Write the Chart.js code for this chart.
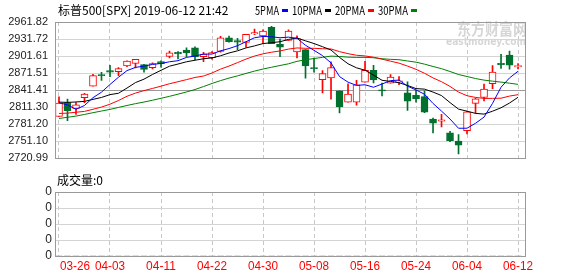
<!DOCTYPE html>
<html>
<head>
<meta charset="utf-8">
<script src="https://cdn.jsdelivr.net/npm/chart.js@4.4.1/dist/chart.umd.min.js"></script>
<style>
  body { margin: 0; background: #fff; }
  #wrap { position: relative; width: 578px; height: 276px; }
  #wrap canvas { position: absolute; left: 0; }
  #kChart { top: 0; }
  #volChart { top: 172px; }
</style>
</head>
<body>
<div id="wrap">
  <canvas id="kChart" width="578" height="172"></canvas>
  <canvas id="volChart" width="578" height="104"></canvas>
</div>
<script>
// daily candles, S&P 500, 2019-03-26 .. 2019-06-12
const dates = ['03-26','03-27','03-28','03-29','04-01','04-02','04-03','04-04','04-05','04-08',
  '04-09','04-10','04-11','04-12','04-15','04-16','04-17','04-18','04-22','04-23',
  '04-24','04-25','04-26','04-29','04-30','05-01','05-02','05-03','05-06','05-07',
  '05-08','05-09','05-10','05-13','05-14','05-15','05-16','05-17','05-20','05-21',
  '05-22','05-23','05-24','05-28','05-29','05-30','05-31','06-03','06-04','06-05',
  '06-06','06-07','06-10','06-11','06-12'];

const open = [2795.0, 2819.7, 2809.4, 2828.3, 2848.6, 2868.2, 2876.1, 2874.0, 2884.2, 2888.5,
  2886.6, 2881.4, 2891.9, 2900.9, 2908.3, 2912.3, 2916.0, 2900.5, 2898.8, 2910.0,
  2934.0, 2929.0, 2925.8, 2940.6, 2937.1, 2952.3, 2922.2, 2929.2, 2908.9, 2913.0,
  2879.6, 2859.8, 2863.1, 2840.2, 2820.1, 2820.4, 2855.8, 2876.3, 2841.9, 2854.0,
  2856.1, 2836.7, 2832.4, 2830.0, 2790.3, 2786.9, 2766.2, 2751.5, 2770.0, 2818.1,
  2828.5, 2852.9, 2889.0, 2903.3, 2882.7];
const high = [2829.9, 2825.6, 2819.7, 2836.0, 2869.4, 2872.9, 2885.3, 2881.3, 2893.2, 2896.0,
  2886.9, 2889.7, 2893.4, 2910.5, 2909.6, 2916.1, 2918.0, 2908.4, 2909.5, 2936.3,
  2936.8, 2933.1, 2939.9, 2949.5, 2948.2, 2954.1, 2931.7, 2947.9, 2937.3, 2913.0,
  2898.0, 2876.0, 2891.3, 2840.2, 2852.5, 2858.7, 2892.2, 2885.5, 2853.9, 2868.9,
  2865.5, 2856.3, 2841.4, 2840.5, 2792.0, 2799.0, 2769.0, 2763.1, 2804.5, 2827.3,
  2852.1, 2885.0, 2904.8, 2910.6, 2888.6];
const low = [2795.0, 2787.7, 2798.8, 2819.2, 2848.6, 2858.8, 2865.2, 2867.1, 2883.0, 2880.8,
  2873.3, 2879.1, 2882.0, 2898.4, 2896.5, 2900.7, 2895.5, 2891.9, 2896.4, 2908.5,
  2926.1, 2912.8, 2917.6, 2939.4, 2924.1, 2923.4, 2900.5, 2929.2, 2898.2, 2862.6,
  2873.3, 2836.4, 2825.4, 2801.4, 2820.1, 2815.1, 2855.8, 2854.2, 2831.3, 2854.0,
  2851.1, 2805.5, 2820.2, 2801.6, 2766.1, 2776.7, 2750.5, 2728.8, 2764.0, 2800.9,
  2822.5, 2844.0, 2880.0, 2878.5, 2879.0];
const close = [2818.5, 2805.4, 2815.4, 2834.4, 2867.2, 2867.2, 2873.4, 2879.4, 2892.7, 2895.8,
  2878.2, 2888.2, 2888.3, 2907.4, 2905.6, 2907.1, 2900.5, 2905.0, 2908.0, 2933.7,
  2927.3, 2926.2, 2939.9, 2943.0, 2945.8, 2923.7, 2917.5, 2945.6, 2932.5, 2884.1,
  2879.4, 2870.7, 2881.4, 2811.9, 2834.4, 2851.0, 2876.3, 2859.5, 2840.2, 2864.4,
  2856.3, 2822.2, 2826.1, 2802.4, 2783.0, 2788.9, 2752.1, 2744.5, 2803.3, 2826.2,
  2843.5, 2873.3, 2886.7, 2885.7, 2885.0];

const ma5 = [2819.3, 2815.6, 2807.7, 2814.4, 2828.2, 2837.9, 2851.5, 2864.3, 2876.0, 2881.7,
  2883.9, 2886.9, 2888.6, 2891.6, 2893.5, 2899.3, 2901.8, 2905.1, 2905.2, 2910.9,
  2914.9, 2920.0, 2927.0, 2934.0, 2936.4, 2935.7, 2934.0, 2935.1, 2933.0, 2920.7,
  2911.8, 2902.5, 2889.6, 2865.5, 2855.6, 2849.9, 2851.0, 2846.6, 2852.3, 2858.3,
  2859.3, 2848.5, 2841.8, 2834.3, 2818.0, 2804.5, 2790.5, 2774.2, 2774.3, 2783.0,
  2793.9, 2818.1, 2846.6, 2863.1, 2874.8];
const ma10 = [2820.4, 2819.9, 2820.6, 2821.7, 2825.2, 2828.6, 2833.6, 2836.0, 2845.2, 2854.9,
  2860.9, 2869.2, 2876.5, 2883.8, 2887.6, 2891.6, 2894.3, 2896.9, 2898.4, 2902.2,
  2907.1, 2910.9, 2916.1, 2919.6, 2923.7, 2925.3, 2927.0, 2931.1, 2933.5, 2928.6,
  2923.8, 2918.2, 2912.4, 2899.3, 2888.1, 2880.9, 2876.7, 2868.1, 2858.9, 2856.9,
  2854.6, 2849.8, 2844.2, 2843.3, 2838.1, 2831.9, 2819.5, 2808.0, 2804.3, 2800.5,
  2799.2, 2804.3, 2810.4, 2818.7, 2828.9];
const ma20 = [2800.3, 2800.9, 2802.5, 2804.0, 2807.7, 2811.6, 2816.7, 2823.2, 2830.7, 2836.3,
  2840.7, 2844.5, 2848.5, 2852.8, 2856.4, 2860.1, 2863.9, 2866.4, 2871.8, 2878.6,
  2884.0, 2890.1, 2896.3, 2901.7, 2905.6, 2908.5, 2910.7, 2914.0, 2916.0, 2915.4,
  2915.4, 2914.6, 2914.2, 2909.5, 2905.9, 2903.1, 2901.9, 2899.6, 2896.2, 2892.7,
  2889.2, 2884.0, 2878.3, 2871.3, 2863.1, 2856.4, 2848.1, 2838.1, 2831.6, 2828.7,
  2826.9, 2827.0, 2827.3, 2831.0, 2833.5];
const ma30 = [2791.5, 2793.6, 2795.7, 2798.6, 2801.7, 2804.6, 2807.5, 2811.0, 2814.4, 2817.7,
  2820.5, 2823.7, 2827.1, 2830.6, 2834.4, 2838.3, 2842.6, 2847.8, 2853.3, 2858.3,
  2862.8, 2866.7, 2871.0, 2875.1, 2878.8, 2881.9, 2885.0, 2888.0, 2892.4, 2895.2,
  2897.3, 2899.4, 2901.6, 2900.9, 2899.8, 2899.3, 2899.4, 2898.7, 2896.9, 2895.9,
  2895.2, 2893.0, 2890.9, 2887.4, 2883.3, 2879.4, 2874.4, 2869.1, 2865.6, 2862.0,
  2859.2, 2857.4, 2855.7, 2853.8, 2851.7];

const volume = new Array(dates.length).fill(0);

const yTicks = [2720.99, 2751.09, 2781.20, 2811.30, 2841.41, 2871.51, 2901.61, 2931.72, 2961.82];
const yLabels = ['2720.99', '2751.10', '2781.20', '2811.30', '2841.41', '2871.51', '2901.61', '2931.72', '2961.82'];
const volTicks = [0, 1, 2, 3, 4];
const volLabels = ['0', '0', '0', '0', '0'];
const xTickIdx = [0, 6, 12, 18, 24, 30, 36, 42, 48, 54];
const xLabels = xTickIdx.map(i => dates[i]);

const titleText = '标普500[SPX] 2019-06-12 21:42';
const maNames = ['5PMA', '10PMA', '20PMA', '30PMA'];
const maColors = ['#0000ff', '#000000', '#ff0000', '#008000'];
const upColor = '#ff0000';
const downColor = '#00702f';

const isUp = i => close[i] >= open[i];

const xRange = { min: -0.47, max: 54.82 };

function xAxis(height) {
    return {
        type: 'linear',
        min: xRange.min,
        max: xRange.max,
        offset: false,
        afterBuildTicks: s => { s.ticks = xTickIdx.map(v => ({ value: v })); },
        afterFit: s => { s.height = height; },
        ticks: { display: false },
        grid: { drawTicks: false, offset: false, color: '#c8c8c8' },
        border: { display: false, dash: [4, 3] }
    };
}

// grey box round the plot area
const frame = {
    id: 'frame',
    afterDraw(chart) {
        const { ctx, chartArea: a } = chart;
        ctx.save();
        ctx.strokeStyle = '#999999';
        ctx.lineWidth = 1;
        ctx.strokeRect(Math.round(a.left) + 0.5, Math.round(a.top) + 0.5,
            Math.round(a.right - a.left), Math.round(a.bottom - a.top));
        ctx.restore();
    }
};

const header = {
    id: 'header',
    beforeDatasetsDraw(chart) {
        const ctx = chart.ctx;
        ctx.save();
        // watermark
        ctx.fillStyle = '#d6d6d6';
        ctx.textBaseline = 'middle';
        ctx.font = 'bold 16px "Noto Sans CJK SC"';
        ctx.fillText('东方财富网', 457, 29, 70);
        ctx.font = 'bold 10px "DejaVu Sans"';
        ctx.fillText('eastmoney.com', 446, 42, 80);
        ctx.restore();
    },
    afterDraw(chart) {
        const ctx = chart.ctx;
        ctx.save();
        ctx.textBaseline = 'middle';
        ctx.fillStyle = '#000';
        ctx.font = '12px "Noto Sans CJK SC"';
        ctx.fillText(titleText, 58, 10, 176);
        let x = 255;
        maNames.forEach((name, k) => {
            const w = name.length * 6;
            ctx.fillStyle = '#000';
            ctx.fillText(name, x, 10, w);
            x += w + 3;
            ctx.fillStyle = maColors[k];
            ctx.fillRect(x, 9, 6, 3);
            x += 6 + 4;
        });
        ctx.restore();
    }
};

const maSets = [ma5, ma10, ma20, ma30].map((arr, k) => ({
    type: 'line',
    label: maNames[k],
    data: arr.map((v, i) => ({ x: i, y: v })),
    borderColor: maColors[k],
    borderWidth: 1,
    pointRadius: 0,
    tension: 0,
    order: 1
}));

const kChart = new Chart(document.getElementById('kChart'), {
    type: 'line',
    data: {
        datasets: [
            ...maSets,
            {
                type: 'bar',
                label: 'wick',
                data: dates.map((d, i) => ({ x: i, y: [low[i], high[i]] })),
                backgroundColor: c => isUp(c.dataIndex) ? upColor : downColor,
                barThickness: 1,
                order: 3
            },
            {
                type: 'bar',
                label: 'body',
                data: dates.map((d, i) => ({ x: i, y: [Math.min(open[i], close[i]), Math.max(open[i], close[i])] })),
                backgroundColor: c => isUp(c.dataIndex) ? '#ffffff' : downColor,
                borderColor: c => isUp(c.dataIndex) ? upColor : downColor,
                borderWidth: 1,
                borderSkipped: false,
                barThickness: 7,
                minBarLength: 1,
                order: 2
            }
        ]
    },
    options: {
        animation: false,
        responsive: false,
        devicePixelRatio: 1,
        layout: { padding: { top: 22, right: 53, bottom: 6, left: 0 } },
        datasets: { bar: { grouped: false } },
        plugins: { legend: { display: false }, tooltip: { enabled: false } },
        scales: {
            x: xAxis(0),
            y: {
                min: yTicks[0],
                max: yTicks[yTicks.length - 1],
                afterBuildTicks: s => { s.ticks = yTicks.map(v => ({ value: v })); },
                afterFit: s => { s.width = 55; },
                ticks: {
                    autoSkip: false,
                    callback: (v, i) => yLabels[i],
                    color: '#222',
                    padding: 7,
                    font: { family: '"Liberation Sans", Arial', size: 11 }
                },
                grid: { drawTicks: false, color: c => c.index === 4 ? '#999999' : '#d4d4d4' },
                border: { display: false }
            }
        }
    },
    plugins: [header, frame]
});

const volHeader = {
    id: 'volHeader',
    afterDraw(chart) {
        const ctx = chart.ctx;
        const xs = chart.scales.x;
        ctx.save();
        ctx.textBaseline = 'middle';
        ctx.fillStyle = '#000';
        ctx.font = '12px "Noto Sans CJK SC"';
        ctx.fillText('成交量:0', 57, 8, 48);
        // date labels under the axis
        ctx.fillStyle = '#ff0000';
        ctx.font = '12px "Liberation Sans", Arial';
        xTickIdx.forEach((idx, k) => {
            const px = xs.getPixelForValue(idx);
            ctx.textAlign = k === 0 ? 'left' : 'center';
            ctx.fillText(xLabels[k], k === 0 ? px + 1 : px, chart.chartArea.bottom + 11, 30);
        });
        ctx.restore();
    }
};

const volChart = new Chart(document.getElementById('volChart'), {
    type: 'bar',
    data: {
        datasets: [{
            label: '成交量',
            data: volume.map((v, i) => ({ x: i, y: v })),
            backgroundColor: '#999999',
            barThickness: 6
        }]
    },
    options: {
        animation: false,
        responsive: false,
        devicePixelRatio: 1,
        layout: { padding: { top: 20, right: 53, bottom: 0, left: 0 } },
        plugins: { legend: { display: false }, tooltip: { enabled: false } },
        scales: {
            x: xAxis(20),
            y: {
                min: 0,
                max: 4,
                afterBuildTicks: s => { s.ticks = volTicks.map(v => ({ value: v })); },
                afterFit: s => { s.width = 55; },
                ticks: {
                    autoSkip: false,
                    callback: (v, i) => volLabels[i],
                    color: '#222',
                    padding: 3,
                    font: { family: '"Liberation Sans", Arial', size: 12 }
                },
                grid: { drawTicks: false, color: '#d4d4d4' },
                border: { display: false }
            }
        }
    },
    plugins: [frame, volHeader]
});
</script>
</body>
</html>
